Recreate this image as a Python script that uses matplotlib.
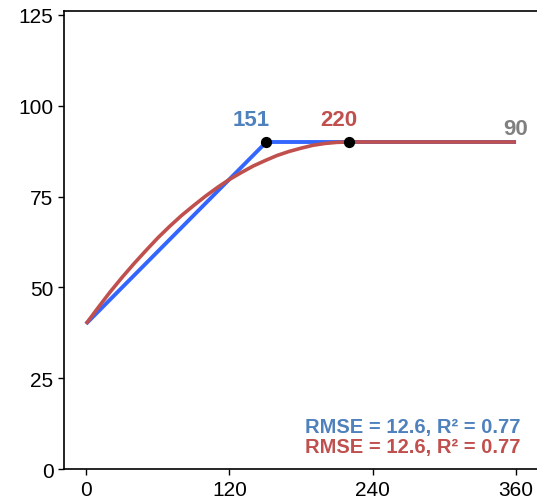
import matplotlib
matplotlib.use("Agg")
import matplotlib.pyplot as plt

plt.rcParams['font.family'] = ['Liberation Sans', 'DejaVu Sans']

# linear-plateau fit (blue)
lin_x = [0, 151, 360]
lin_y = [40, 90, 90]

# quadratic-plateau fit (red)
quad_x = [0, 10, 20, 30, 40, 50, 60, 70, 80, 90, 100, 110, 120, 130, 140,
          150, 160, 170, 180, 190, 200, 210, 220, 360]
quad_y = [40, 44.4, 48.7, 52.7, 56.5, 60.1, 63.6, 66.8, 69.8, 72.5, 75.1,
          77.5, 79.7, 81.6, 83.4, 84.9, 86.3, 87.4, 88.3, 89.1, 89.6, 89.9,
          90, 90]

# join points
join_x = [151, 220]
join_y = [90, 90]
plateau = 90

xticks = [0, 120, 240, 360]
yticks = [0, 25, 50, 75, 100, 125]

blue_line = '#3366ff'
blue_text = '#4f81bd'
red = '#c0504d'
grey = '#808080'

fig = plt.figure(figsize=(5.37, 5.02), dpi=100)
ax = fig.add_axes([0.119, 0.063, 0.882, 0.913])

ax.plot(lin_x, lin_y, color=blue_line, lw=2.8, solid_capstyle='butt', zorder=2)
ax.plot(quad_x, quad_y, color=red, lw=2.6, solid_capstyle='butt',
        solid_joinstyle='round', zorder=3)
ax.scatter(join_x, join_y, s=50, color='black', zorder=4)

ax.text(join_x[0] - 13, 96.3, str(join_x[0]), color=blue_text, fontsize=16,
        fontweight='bold', ha='center', va='center')
ax.text(join_x[1] - 8, 96.3, str(join_x[1]), color=red, fontsize=16,
        fontweight='bold', ha='center', va='center')
ax.text(360, 93.6, str(plateau), color=grey, fontsize=16,
        fontweight='bold', ha='center', va='center')

ax.text(364, 11.7, 'RMSE = 12.6, R² = 0.77', color=blue_text, fontsize=14.5,
        fontweight='bold', ha='right', va='center')
ax.text(364, 6.2, 'RMSE = 12.6, R² = 0.77', color=red, fontsize=14.5,
        fontweight='bold', ha='right', va='center')

ax.set_xlim(-18.5, 378)
ax.set_ylim(0, 126)
ax.set_xticks(xticks)
ax.set_yticks(yticks)
ax.tick_params(labelsize=15, length=4, width=1)
ax.spines['right'].set_visible(False)
for s in ['left', 'bottom', 'top']:
    ax.spines[s].set_linewidth(1.2)

fig.savefig('out.png', dpi=100)
